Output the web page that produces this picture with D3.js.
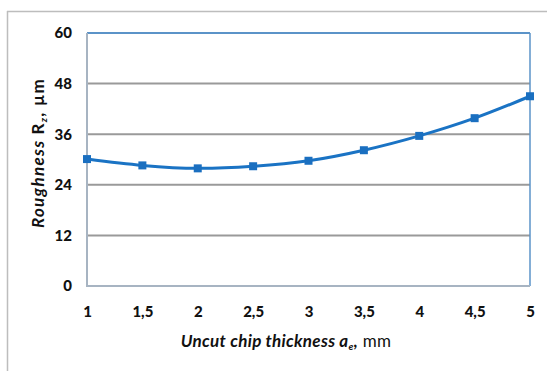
<!DOCTYPE html>
<html><head><meta charset="utf-8">
<script src="https://cdn.jsdelivr.net/npm/d3@7"></script>
<style>body{margin:0;background:#fff}svg{display:block}</style>
</head><body>
<script>
const thickness = [1, 1.5, 2, 2.5, 3, 3.5, 4, 4.5, 5];
const roughness = [30.1, 28.6, 27.9, 28.4, 29.7, 32.2, 35.6, 39.8, 45.0];
const xTicks = [1, 1.5, 2, 2.5, 3, 3.5, 4, 4.5, 5];
const yTicks = [0, 12, 24, 36, 48, 60];

const W = 547, H = 371;
const svg = d3.select("body").append("svg").attr("width", W).attr("height", H);
const font = "Lato, 'Open Sans', sans-serif";

// outer frame
svg.append("line").attr("x1",7.5).attr("x2",7.5).attr("y1",11).attr("y2",H).attr("stroke","#bdbdbd").attr("stroke-width",1.5);
svg.append("line").attr("x1",7).attr("x2",W).attr("y1",11.5).attr("y2",11.5).attr("stroke","#bdbdbd").attr("stroke-width",1.5);

const L = 87, R = 530, T = 33, B = 286;
const x = d3.scaleLinear().domain([1,5]).range([L,R]);
const y = d3.scaleLinear().domain([0,60]).range([B,T]);

// gridlines
svg.append("g").selectAll("line").data(yTicks.filter(v=>v>0 && v<60)).join("line")
  .attr("x1",L).attr("x2",R).attr("y1",d=>y(d)).attr("y2",d=>y(d))
  .attr("stroke","#9a9a9a").attr("stroke-width",2);

// plot border
svg.append("line").attr("x1",L).attr("x2",R).attr("y1",T).attr("y2",T).attr("stroke","#5b93c8").attr("stroke-width",2);
svg.append("line").attr("x1",R).attr("x2",R).attr("y1",T).attr("y2",B).attr("stroke","#5b93c8").attr("stroke-width",1.5);
svg.append("line").attr("x1",L).attr("x2",L).attr("y1",T).attr("y2",B+1).attr("stroke","#a7b4c2").attr("stroke-width",2);
svg.append("line").attr("x1",L).attr("x2",R).attr("y1",B).attr("y2",B).attr("stroke","#a7b4c2").attr("stroke-width",2);

// axes
const yAxis = d3.axisLeft(y).tickValues(yTicks).tickSize(0).tickPadding(15);
const gy = svg.append("g").attr("transform",`translate(${L},0)`).call(yAxis);
gy.select(".domain").remove();
gy.selectAll("text").attr("font-family",font).attr("font-weight","900").attr("font-size",15).attr("fill","#111");

const xAxis = d3.axisBottom(x).tickValues(xTicks).tickSize(0).tickPadding(20)
  .tickFormat(d=>String(d).replace(".",","));
const gx = svg.append("g").attr("transform",`translate(0,${B})`).call(xAxis);
gx.select(".domain").remove();
gx.selectAll("text").attr("font-family",font).attr("font-weight","900").attr("font-size",15).attr("fill","#111");

// line
const line = d3.line().x((d,i)=>x(thickness[i])).y(d=>y(d)).curve(d3.curveCatmullRom.alpha(0.5));
svg.append("path").datum(roughness).attr("d",line).attr("fill","none")
  .attr("stroke","#1a73c4").attr("stroke-width",3);
svg.append("g").selectAll("rect").data(roughness).join("rect")
  .attr("x",(d,i)=>x(thickness[i])-4).attr("y",d=>y(d)-4).attr("width",8).attr("height",8)
  .attr("fill","#1a6fc0");

// x title
const xt = svg.append("text").attr("x",286).attr("y",347).attr("text-anchor","middle")
  .attr("font-family",font).attr("font-size",17).attr("fill","#111").attr("letter-spacing",0.3);
xt.append("tspan").attr("font-style","italic").attr("font-weight","bold").text("Uncut chip thickness a");
xt.append("tspan").attr("font-style","italic").attr("font-weight","bold").attr("font-size",10).attr("dy",3).text("e");
xt.append("tspan").attr("font-style","italic").attr("font-weight","bold").attr("dy",-3).text(",");
xt.append("tspan").text(" mm");

// y title
const yt = svg.append("text").attr("transform",`translate(44,153) rotate(-90)`).attr("text-anchor","middle")
  .attr("font-family",font).attr("font-size",17).attr("fill","#111").attr("font-weight","bold").attr("letter-spacing",1.3);
yt.append("tspan").attr("font-style","italic").text("Roughness ");
yt.append("tspan").text("R");
yt.append("tspan").attr("font-style","italic").attr("font-size",10).attr("dy",3).text("z");
yt.append("tspan").attr("dy",-3).text(", µm");
</script>
</body></html>
